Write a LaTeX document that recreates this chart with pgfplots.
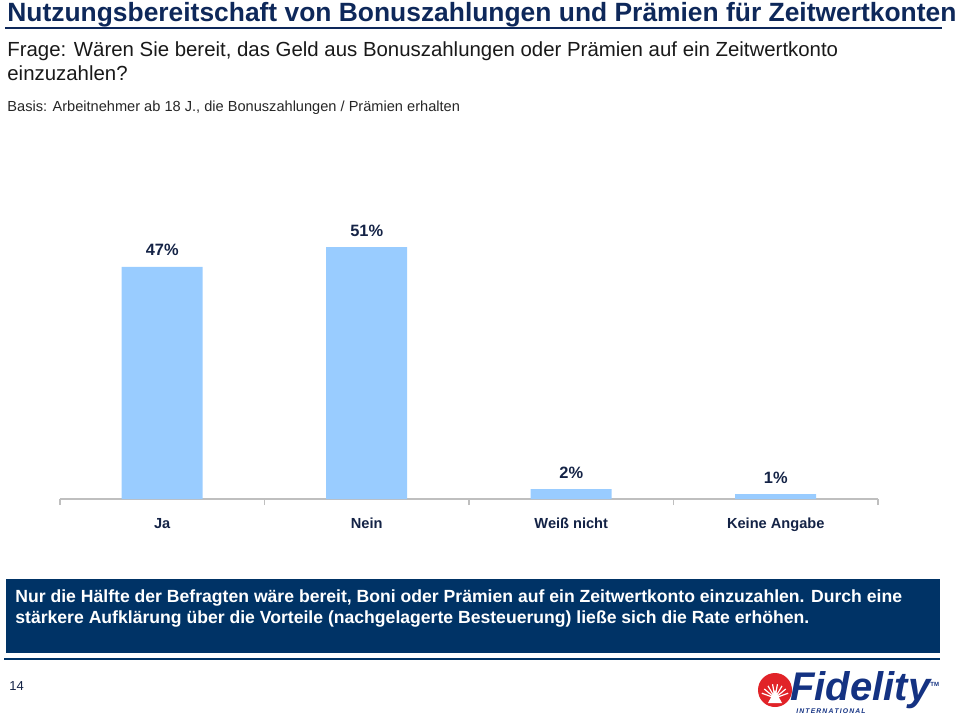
\documentclass[border=0pt]{standalone}
\usepackage{pgfplots}
\pgfplotsset{compat=1.18}
\usepackage{fontspec}
\setmainfont{Liberation Sans}
\definecolor{navy}{RGB}{0,51,102}
\definecolor{titlenavy}{RGB}{14,40,90}
\definecolor{barblue}{RGB}{153,204,255}
\definecolor{lbl}{RGB}{20,35,70}
\definecolor{fidred}{RGB}{225,35,40}
\definecolor{fidblue}{RGB}{20,50,130}
\begin{document}
\begin{tikzpicture}[x=0.5pt,y=-0.5pt]
\path[use as bounding box] (0,0) rectangle (960,723);
\coordinate (AX) at (60,499);
% title
\node[anchor=base west, inner sep=0, text=titlenavy, font=\fontsize{13.2}{15}\selectfont\bfseries] at (7,21) {Nutzungsbereitschaft von Bonuszahlungen und Prämien für Zeitwertkonten};
\draw[titlenavy, line width=1pt] (5,28) -- (942,28);
\node[anchor=base west, inner sep=0, text=black!90, font=\fontsize{10.2}{12}\selectfont] at (7,56) {Frage: Wären Sie bereit, das Geld aus Bonuszahlungen oder Prämien auf ein Zeitwertkonto};
\node[anchor=base west, inner sep=0, text=black!90, font=\fontsize{10.2}{12}\selectfont] at (7,80) {einzuzahlen?};
\node[anchor=base west, inner sep=0, text=black!85, font=\fontsize{7.3}{9}\selectfont] at (7,111) {Basis: Arbeitnehmer ab 18 J., die Bonuszahlungen / Prämien erhalten};
% chart
\begin{axis}[at={(AX)}, anchor=south west, scale only axis,
  width=409pt, height=135.85pt,
  xmin=-0.5, xmax=3.5, ymin=0, ymax=55,
  axis y line=none, axis x line*=bottom,
  axis line style={draw=black!25, line width=0.8pt},
  xtick={0,1,2,3}, xticklabels={Ja,Nein,Weiß nicht,Keine Angabe},
  major tick length=0pt,
  minor xtick={-0.5,0.5,1.5,2.5,3.5}, minor tick length=3pt,
  tick align=outside,
  minor tick style={draw=black!25, line width=0.8pt},
  xticklabel style={font=\fontsize{7.3}{9}\selectfont\bfseries, text=lbl, anchor=base, yshift=-14.5pt},
  ybar, bar width=40.5pt,
  /pgf/number format/assume math mode=true,
  nodes near coords={\pgfmathprintnumber{\pgfplotspointmeta}\%},
  every node near coord/.append style={font=\fontsize{8.2}{10}\selectfont\bfseries, text=lbl, anchor=base, yshift=5.5pt},
  clip=false]
\addplot[fill=barblue, draw=none] coordinates {(0,47) (1,51) (2,2) (3,1)};
\end{axis}
% summary box
\fill[navy] (6,579) rectangle (940,653);
\node[anchor=base west, inner sep=0, text=white, font=\fontsize{8.8}{10.5}\selectfont\bfseries] at (15,602) {Nur die Hälfte der Befragten wäre bereit, Boni oder Prämien auf ein Zeitwertkonto einzuzahlen. Durch eine};
\node[anchor=base west, inner sep=0, text=white, font=\fontsize{8.8}{10.5}\selectfont\bfseries] at (15,623) {stärkere Aufklärung über die Vorteile (nachgelagerte Besteuerung) ließe sich die Rate erhöhen.};
\draw[navy, line width=1pt] (4,659) -- (940,659);
% page number
\node[anchor=base west, inner sep=0, text=lbl, font=\fontsize{6.5}{8}\selectfont] at (9,690) {14};
% logo
\fill[fidred] (775,690) circle (17);
\foreach \a in {20,40,...,160} {\draw[white, line width=0.6pt] (775,698) -- ++({-\a}:14);}
\fill[white] (768,703) -- (775,690) -- (782,703) -- cycle;
\node[anchor=base west, inner sep=0, text=fidblue, font=\fontsize{20}{22}\selectfont\bfseries\itshape] at (790,700) {Fidelity};
\node[anchor=base west, inner sep=0, text=fidblue, font=\fontsize{3.4}{4}\selectfont\bfseries\itshape] at (796,713) {I\,N\,T\,E\,R\,N\,A\,T\,I\,O\,N\,A\,L};
\node[anchor=base west, inner sep=0, text=fidblue, font=\fontsize{3}{4}\selectfont\bfseries] at (930,686) {TM};
\end{tikzpicture}
\end{document}
